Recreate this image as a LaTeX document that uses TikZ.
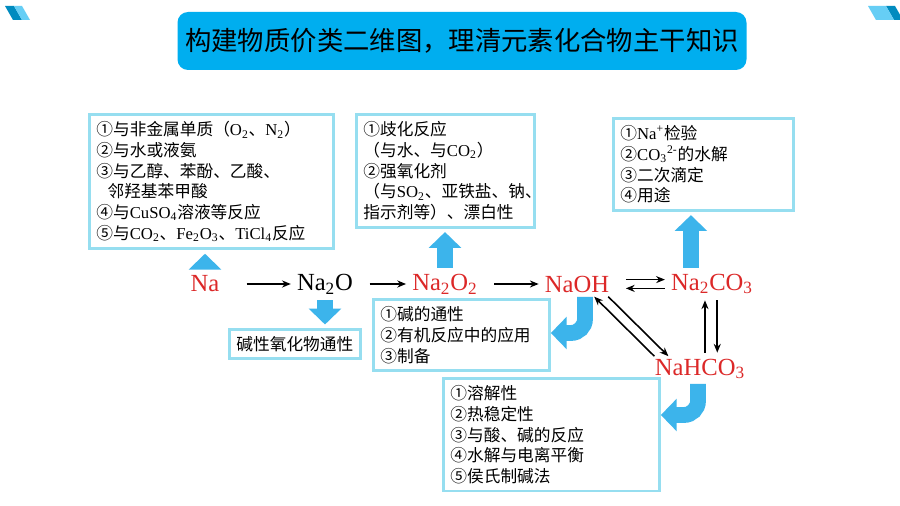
\documentclass[tikz,border=0pt]{standalone}
\usepackage{fontspec}
\setmainfont{Liberation Serif}
\newfontfamily\cjk{Noto Sans CJK SC}
\newcommand{\fml}[1]{{\rmfamily #1}}
\usetikzlibrary{arrows.meta,calc}
\definecolor{titleblue}{RGB}{0,174,239}
\definecolor{boxline}{RGB}{150,222,240}
\definecolor{fatblue}{RGB}{60,180,235}
\definecolor{chemred}{RGB}{220,40,40}
\tikzset{
  infobox/.style={draw=boxline,line width=1.6pt,fill=white,align=left,anchor=north west,
    inner sep=4pt,font=\cjk\fontsize{9.5}{11.8}\selectfont},
  chem/.style={text=chemred,font=\fontsize{14}{16}\selectfont},
  reac/.style={-{Stealth[length=5pt,width=4pt]},line width=0.9pt},
  fatarrow/.style={draw=fatblue,line width=9pt,shorten >=2pt,-{Triangle[length=9pt,width=18pt]}},
  hookarrow/.style={draw=fatblue,line width=9pt,rounded corners=8pt,-{Triangle[length=9pt,width=18pt]}}
}
\begin{document}
\begin{tikzpicture}[x=0.02cm,y=-0.02cm]
        \useasboundingbox[fill=white] (0,0) rectangle (900,506);
        % corner marks
        \fill[titleblue!80!black] (5,6) -- (14,6) -- (22,20) -- (13,20) -- cycle;
        \fill[titleblue!60] (14,6) -- (22,6) -- (30,20) -- (22,20) -- cycle;
        \fill[titleblue!80!black] (895,6) -- (886,6) -- (894,20) -- (903,20) -- cycle;
        \fill[titleblue!60] (886,6) -- (868,6) -- (876,20) -- (894,20) -- cycle;
        % title
        \node[fill=titleblue,rounded corners=6pt,minimum width=569*0.02cm,minimum height=58*0.02cm,
          font=\cjk\fontsize{15}{18}\selectfont] (title) at (462,41) {构建物质价类二维图，理清元素化合物主干知识};
        % boxes
        \node[infobox,text width=230*0.02cm] (nabox) at (88,113) {①与非金属单质（\fml{O\textsubscript{2}}、\fml{N\textsubscript{2}}）\\②与水或液氨\\③与乙醇、苯酚、乙酸、\\\ \ 邻羟基苯甲酸\\④与\fml{CuSO\textsubscript{4}}溶液等反应\\⑤与\fml{CO\textsubscript{2}}、\fml{Fe\textsubscript{2}O\textsubscript{3}}、\fml{TiCl\textsubscript{4}}反应};
        \node[infobox,text width=164*0.02cm] (peroxbox) at (355,113) {①歧化反应\\（与水、与\fml{CO\textsubscript{2}}）\\②强氧化剂\\（与\fml{SO\textsubscript{2}}、亚铁盐、钠、\\指示剂等）、漂白性};
        \node[infobox,text width=166*0.02cm] (carbbox) at (612,117) {①\fml{Na\textsuperscript{+}}检验\\②\fml{CO\textsubscript{3}\textsuperscript{2-}}的水解\\③二次滴定\\④用途};
        \node[infobox] (oxbox) at (228,328) {碱性氧化物通性};
        \node[infobox,text width=162*0.02cm] (basebox) at (372,298) {①碱的通性\\②有机反应中的应用\\③制备};
        \node[infobox,text width=202*0.02cm] (bicbox) at (442,377) {①溶解性\\②热稳定性\\③与酸、碱的反应\\④水解与电离平衡\\⑤侯氏制碱法};
        % species
        \node[chem] (na) at (205,284) {Na};
        \node[chem,text=black] (nao) at (325,284) {Na\textsubscript{2}O};
        \node[chem] (naoo) at (445,284) {Na\textsubscript{2}O\textsubscript{2}};
        \node[chem] (naoh) at (577,284) {NaOH};
        \node[chem] (naco) at (712,284) {Na\textsubscript{2}CO\textsubscript{3}};
        \node[chem] (nahco) at (700,369) {NaHCO\textsubscript{3}};
        % reactions
        \draw[reac] ([xshift=12pt]na.east) -- (nao.west);
        \draw[reac] ([xshift=6pt]nao.east) -- (naoo.west);
        \draw[reac] ([xshift=6pt]naoo.east) -- (naoh.west);
        \draw[reac] ([xshift=6pt,yshift=2.5pt]naoh.east) -- ([yshift=2.5pt]naco.west);
        \draw[reac] ([yshift=-2.5pt]naco.west) -- ([xshift=6pt,yshift=-2.5pt]naoh.east);
        \draw[reac] ([xshift=3pt]naco.south) -- ([xshift=3pt]naco.south |- nahco.north);
        \draw[reac] ([xshift=-4pt]naco.south |- nahco.north) -- ([xshift=-4pt]naco.south);
        \draw[reac] ([xshift=-4pt,yshift=1pt]naoh.south east) -- ([xshift=-18pt,yshift=-2pt]nahco.north);
        \draw[reac] ([xshift=-26pt,yshift=-2pt]nahco.north) -- ([xshift=-12pt,yshift=1pt]naoh.south east);
        % fat arrows
        \draw[fatarrow] ([yshift=2pt]na.north) -- (na.north |- nabox.south);
        \draw[fatarrow] (naoo.north) -- (naoo.north |- peroxbox.south);
        \draw[fatarrow] ([xshift=-12pt]naco.north) -- ([xshift=-12pt]naco.north |- carbbox.south);
        \draw[fatarrow] (nao.south) -- (nao.south |- oxbox.north);
        \draw[hookarrow] (585,297) -- (585,333) -- (basebox.east |- 0,333);
        \draw[hookarrow] (698,384) -- (698,415) -- (bicbox.east |- 0,415);
\end{tikzpicture}
\end{document}
